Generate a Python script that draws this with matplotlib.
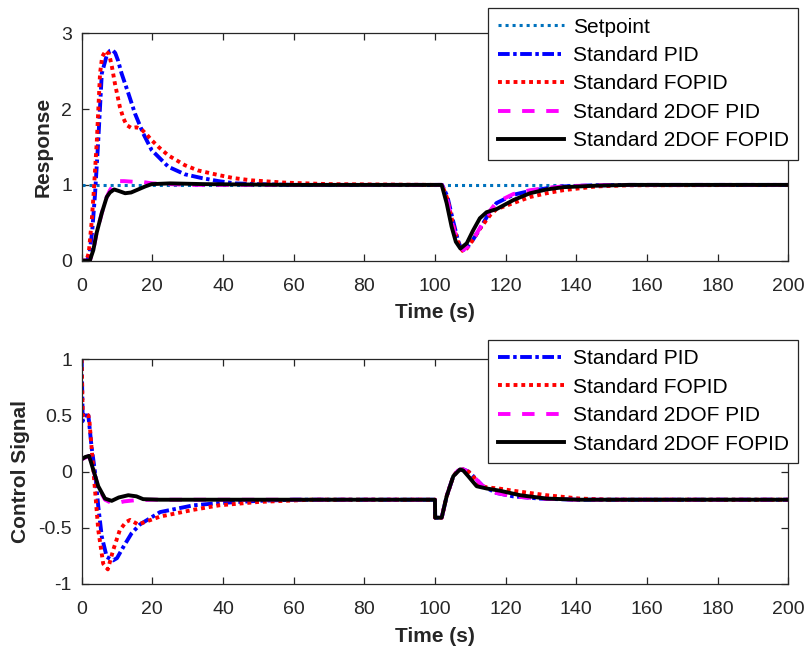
import matplotlib
matplotlib.use("Agg")
import matplotlib.pyplot as plt

# ---- response (top panel) ----
t_set = [0, 200]
y_set = [1, 1]

t_pid_r = [0, 1.5, 2.2, 3.0, 3.8, 4.7, 5.7, 7.1, 8.0, 8.7, 9.5, 10.3, 11.3, 13.2, 15.1, 17.4,
           19.8, 24.5, 29.2, 34, 38.7, 43.4, 50, 60, 100, 102, 103.5, 105, 106.5, 107.3, 108,
           109, 110, 110.8, 112.7, 115.6, 117.4, 122.2, 126.9, 131.6, 136.3, 145, 155, 200]
y_pid_r = [0, 0, 0.08, 0.4, 0.89, 1.59, 2.47, 2.71, 2.77, 2.78, 2.74, 2.64, 2.47, 2.21, 1.94, 1.68,
           1.46, 1.24, 1.14, 1.09, 1.05, 1.02, 1.01, 1.0, 1.0, 1.0, 0.85, 0.55, 0.27, 0.17, 0.14,
           0.17, 0.23, 0.28, 0.42, 0.65, 0.76, 0.87, 0.92, 0.955, 0.98, 0.995, 1.0, 1.0]

t_fopid_r = [0, 1.3, 2.0, 2.8, 3.4, 4.3, 5.2, 5.8, 6.8, 7.8, 8.6, 9.4, 10.8, 11.8, 12.7, 14.1,
             15.5, 17, 18.5, 19.8, 22, 24.5, 29.2, 33, 38.7, 43, 48.1, 57.5, 70, 100, 102, 103.5,
             105, 106.5, 107.8, 109, 110.8, 112.7, 115.6, 117.4, 122.2, 126.9, 131.6, 136.3,
             145.7, 155, 200]
y_fopid_r = [0, 0, 0.1, 0.5, 0.89, 1.59, 2.47, 2.69, 2.77, 2.72, 2.55, 2.34, 2.03, 1.88, 1.79, 1.75,
             1.76, 1.73, 1.66, 1.59, 1.49, 1.39, 1.26, 1.19, 1.13, 1.09, 1.06, 1.03, 1.01, 1.0, 1.0, 0.82,
             0.5, 0.25, 0.13, 0.16, 0.28, 0.42, 0.6, 0.68, 0.76, 0.84, 0.89, 0.93,
             0.98, 0.995, 1.0]

t_2pid_r = [0, 2.3, 3.3, 4.2, 5.7, 7.1, 8.0, 9.0, 9.9, 12, 15, 17, 20, 25, 30, 40, 100, 102,
            103.5, 105, 106.5, 108, 109.5, 110.8, 112.7, 115.6, 117.4, 122.2, 126.9, 131.6,
            136.3, 145, 155, 200]
y_2pid_r = [0, 0, 0.14, 0.36, 0.63, 0.84, 0.93, 1.0, 1.05, 1.05, 1.04, 1.04, 1.02, 1.01, 1.0, 1.0, 1.0, 1.0,
            0.8, 0.47, 0.23, 0.14, 0.19, 0.28, 0.43, 0.66, 0.77, 0.88, 0.93, 0.96,
            0.98, 0.995, 1.0, 1.0]

t_2fopid_r = [0, 2.3, 3.3, 4.2, 5.7, 7.1, 8.0, 9.2, 10.5, 12.3, 14, 16, 18, 19.8, 25, 35, 60, 100,
              101.9, 103.3, 104.7, 105.9, 107.2, 109, 110.8, 112.7, 114.6, 117.4, 122.2, 126.9,
              131.6, 136.3, 145.7, 155, 200]
y_2fopid_r = [0, 0, 0.14, 0.36, 0.63, 0.84, 0.9, 0.94, 0.92, 0.89, 0.9, 0.94, 0.98, 1.01, 1.02, 1.01, 1.0, 1.0,
              1.0, 0.76, 0.45, 0.25, 0.16, 0.23, 0.4, 0.56, 0.64, 0.68, 0.8, 0.89,
              0.94, 0.97, 0.99, 1.0, 1.0]

# ---- control signal (bottom panel) ----
t_pid_u = [0, 0.3, 0.8, 1.9, 2.8, 3.8, 4.7, 5.7, 7.1, 8.9, 10, 11.8, 14.1, 16.5, 22.2, 31.6, 38.9,
           50, 60, 100, 100.05, 101.9, 103.3, 105.2, 106.5, 108, 109.5, 110.8, 113.6, 117.4,
           122.1, 129.7, 140, 200]
y_pid_u = [1.0, 0.45, 0.5, 0.5, 0.22, -0.01, -0.31, -0.58, -0.76, -0.79, -0.77, -0.67, -0.55, -0.47,
           -0.36, -0.30, -0.28, -0.26, -0.25, -0.25, -0.41, -0.41, -0.22, -0.04, 0.01, 0.02, 0.0,
           -0.04, -0.13, -0.19, -0.22, -0.24, -0.25, -0.25]

t_fopid_u = [0, 0.3, 0.8, 1.9, 2.2, 3.3, 4.7, 6.1, 7.4, 8.9, 10.8, 12.5, 13.7, 16, 22.2, 31.6, 38.9,
             50, 65, 100, 100.05, 101.9, 103.3, 105.2, 106.5, 108, 109.5, 111, 112.7, 114.6, 118,
             122.1, 131.6, 141, 150, 200]
y_fopid_u = [1.0, 0.5, 0.52, 0.5, 0.45, 0.02, -0.52, -0.82, -0.87, -0.70, -0.52, -0.45, -0.43, -0.47,
             -0.40, -0.34, -0.30, -0.27, -0.25, -0.25, -0.41, -0.41, -0.22, -0.04, 0.01, 0.02, 0.0,
             -0.05, -0.12, -0.14, -0.15, -0.17, -0.21, -0.24, -0.25, -0.25]

t_2pid_u = [0, 2.1, 3.3, 4.7, 6.6, 8.5, 10, 12, 15, 20, 100, 100.05, 101.9, 103.3, 105.2, 106.5,
            108, 109.5, 110.8, 113.6, 117.4, 122.1, 129.7, 140, 200]
y_2pid_u = [0.11, 0.14, 0.015, -0.14, -0.25, -0.28, -0.28, -0.265, -0.255, -0.25, -0.25, -0.41, -0.41,
            -0.22, -0.04, 0.01, 0.02, 0.0, -0.04, -0.13, -0.19, -0.22, -0.24, -0.25, -0.25]

t_2fopid_u = [0, 1.0, 2.1, 3.3, 4.7, 6.6, 8.5, 10.5, 13.2, 15.5, 17.4, 22, 100, 100.05, 101.9,
              103.3, 105.2, 107.1, 108, 109.4, 111.8, 114.6, 118.4, 124.1, 131.6, 141, 200]
y_2fopid_u = [0.11, 0.13, 0.14, 0.015, -0.13, -0.24, -0.26, -0.23, -0.21, -0.22, -0.245, -0.25, -0.25,
              -0.41, -0.41, -0.22, -0.04, 0.02, 0.01, -0.04, -0.13, -0.15, -0.17, -0.21, -0.24,
              -0.25, -0.25]

x_ticks = [0, 20, 40, 60, 80, 100, 120, 140, 160, 180, 200]
y_ticks_r = [0, 1, 2, 3]
y_ticks_u = [-1, -0.5, 0, 0.5, 1]
y_ticklabels_u = ["-1", "-0.5", "0", "0.5", "1"]

labels = ["Standard PID", "Standard FOPID", "Standard 2DOF PID", "Standard 2DOF FOPID"]

plt.rcParams['font.family'] = ['Liberation Sans', 'DejaVu Sans']
plt.rcParams['axes.unicode_minus'] = False

GREY = '#262626'
LW = 2.8
styles = [
    dict(color='#0000ff', linestyle=(0, (3.0, 0.9, 0.9, 0.9)), lw=LW),
    dict(color='#ff0000', linestyle=(0, (1.0, 1.0)), lw=LW),
    dict(color='#ff00ff', linestyle=(0, (3.2, 3.0)), lw=LW),
    dict(color='#000000', linestyle='-', lw=LW),
]


def style_axes(ax, ylim, yticks, yticklabels, ylabel):
    ax.set_xlim(0, 200)
    ax.set_ylim(*ylim)
    ax.set_xticks(x_ticks)
    ax.set_yticks(yticks)
    ax.set_yticklabels(yticklabels)
    ax.tick_params(direction='in', top=True, right=True, length=5, width=0.9,
                   colors=GREY, labelsize=14)
    ax.tick_params(axis='x', pad=12.5)
    ax.tick_params(axis='y', pad=7)
    for s in ax.spines.values():
        s.set_color(GREY)
        s.set_linewidth(0.9)
    ax.set_xlabel("Time (s)", fontsize=15, fontweight='bold', color=GREY, labelpad=6)
    ax.set_ylabel(ylabel, fontsize=15, fontweight='bold', color=GREY, labelpad=6)


def add_legend(ax, fig, top_px):
    leg = ax.legend(loc='upper right', bbox_to_anchor=(798 / 807, 1 - top_px / 649),
                    bbox_transform=fig.transFigure, fontsize=15, fancybox=False,
                    framealpha=1, edgecolor=GREY, handlelength=3.2, handletextpad=0.4,
                    labelspacing=0.45, borderpad=0.45, borderaxespad=0)
    leg.get_frame().set_linewidth(0.9)
    leg.set_zorder(10)


def main():
    fig = plt.figure(figsize=(8.07, 6.49), dpi=100)
    ax1 = fig.add_axes([0.1012, 0.5983, 0.8756, 0.3504])
    ax2 = fig.add_axes([0.1012, 0.1002, 0.8756, 0.3462])

    ax1.plot(t_set, y_set, color='#0072bd', linestyle=(0, (1.0, 1.3)), lw=2.2, label="Setpoint")
    resp = [(t_pid_r, y_pid_r), (t_fopid_r, y_fopid_r), (t_2pid_r, y_2pid_r), (t_2fopid_r, y_2fopid_r)]
    for (t, y), st, lab in zip(resp, styles, labels):
        ax1.plot(t, y, label=lab, **st)
    style_axes(ax1, (0, 3), y_ticks_r, [str(v) for v in y_ticks_r], "Response")
    add_legend(ax1, fig, 8.3)

    ctrl = [(t_pid_u, y_pid_u), (t_fopid_u, y_fopid_u), (t_2pid_u, y_2pid_u), (t_2fopid_u, y_2fopid_u)]
    for (t, y), st, lab in zip(ctrl, styles, labels):
        ax2.plot(t, y, label=lab, **st)
    style_axes(ax2, (-1, 1), y_ticks_u, y_ticklabels_u, "Control Signal")
    add_legend(ax2, fig, 340)

    fig.savefig("out.png", dpi=100)
    plt.close(fig)


if __name__ == '__main__':
    main()
